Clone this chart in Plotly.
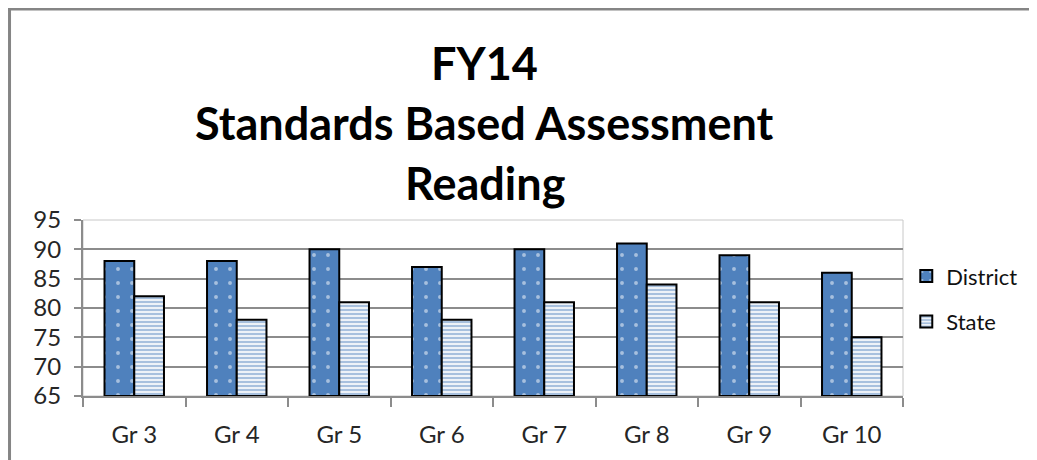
import plotly.graph_objects as go

grades = ["Gr 3", "Gr 4", "Gr 5", "Gr 6", "Gr 7", "Gr 8", "Gr 9", "Gr 10"]
district = [88, 88, 90, 87, 90, 91, 89, 86]
state = [82, 78, 81, 78, 81, 84, 81, 75]

title_lines = ["FY14", "Standards Based Assessment", "Reading"]

BLUE = "#4F81BD"
GRID = "#8C8C8C"
FONT = "Lato"
BASE = 65

fig = go.Figure()

# district bars: blue with white dots
fig.add_trace(
    go.Bar(
        x=grades,
        y=[v - BASE for v in district],
        base=BASE,
        name="District",
        legendgroup="d",
        marker=dict(
            color=BLUE,
            line=dict(color="black", width=2),
            pattern=dict(shape=".", fgcolor="white", bgcolor=BLUE,
                         size=14, solidity=0.06),
        ),
    )
)

# state bars: white with blue horizontal lines
fig.add_trace(
    go.Bar(
        x=grades,
        y=[v - BASE for v in state],
        base=BASE,
        name="State",
        legendgroup="s",
        marker=dict(
            color="white",
            line=dict(color="black", width=2),
            pattern=dict(shape="-", fgcolor=BLUE, bgcolor="white",
                         size=4, solidity=0.6),
        ),
    )
)

# page body has an 8px margin, so the figure is a bit smaller
fig.update_layout(
    width=1029,
    height=452,
    paper_bgcolor="white",
    plot_bgcolor="white",
    margin=dict(l=75, r=134, t=212, b=64, autoexpand=False),
    barmode="group",
    bargap=0.42,
    bargroupgap=0,
    font=dict(family=FONT, size=24, color="#262626"),
    showlegend=True,
    legend=dict(
        x=1.004,
        y=0.80,
        xanchor="left",
        yanchor="top",
        font=dict(size=22, color="#111111"),
        tracegroupgap=14,
        itemwidth=30,
        bgcolor="rgba(0,0,0,0)",
    ),
)

# title, three lines
for i, line in enumerate(title_lines):
    fig.add_annotation(
        text="<b>" + line + "</b>",
        xref="paper",
        yref="paper",
        x=0.49,
        y=(388 - 55 - 60 * i) / 176,
        xanchor="center",
        yanchor="middle",
        showarrow=False,
        font=dict(family=FONT, size=45, color="black"),
    )

fig.update_yaxes(
    range=[65, 95],
    dtick=5,
    showgrid=True,
    gridcolor=GRID,
    gridwidth=2,
    showline=True,
    linecolor=GRID,
    linewidth=2,
    ticks="outside",
    ticklen=7,
    tickcolor=GRID,
    tickwidth=2,
    ticklabelstandoff=8,
    zeroline=False,
    automargin=False,
)

fig.update_xaxes(
    showline=True,
    linecolor=GRID,
    linewidth=2,
    ticks="outside",
    tickson="boundaries",
    ticklen=9,
    tickcolor=GRID,
    tickwidth=2,
    ticklabelstandoff=16,
    showgrid=False,
    automargin=False,
)

# thin outline around the plot area
fig.add_shape(
    type="rect", xref="paper", yref="paper",
    x0=0, x1=1, y0=0, y1=1,
    line=dict(color="#C8C8C8", width=1),
    layer="below",
)

# outer chart border (left and top visible)
fig.add_shape(
    type="rect", xref="paper", yref="paper",
    x0=-0.0896, x1=1.2, y0=-0.5, y1=2.199,
    line=dict(color="#858585", width=3),
)

fig.write_html("out.html")
